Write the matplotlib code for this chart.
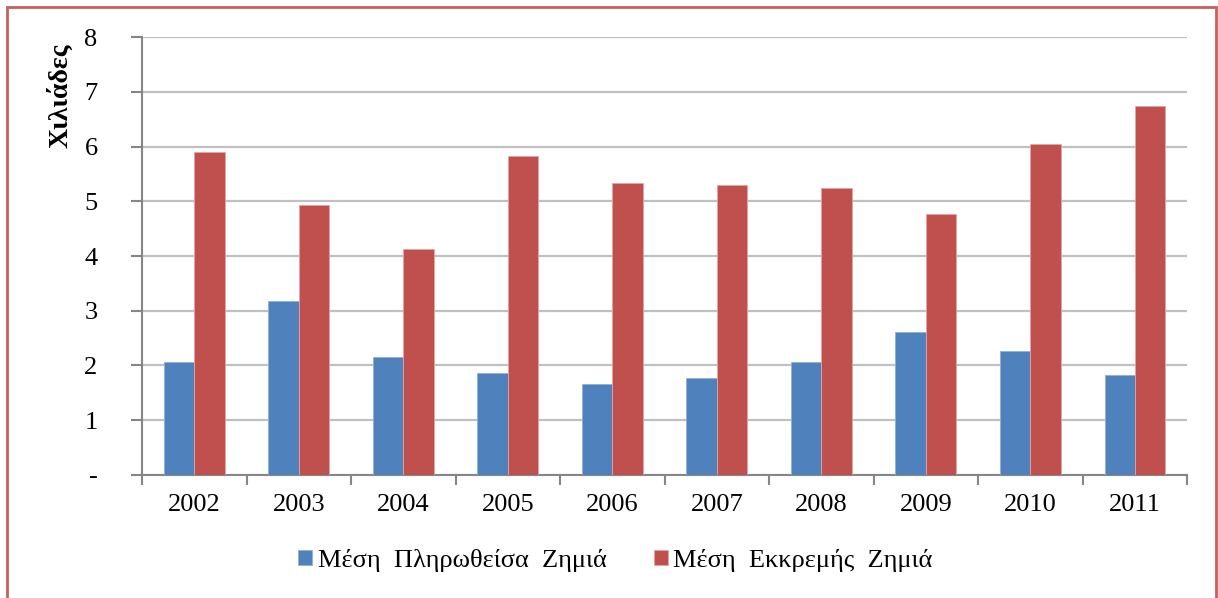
import matplotlib.pyplot as plt
import numpy as np
from matplotlib.patches import Rectangle

years = ['2002', '2003', '2004', '2005', '2006', '2007', '2008', '2009', '2010', '2011']
paid = [2.06, 3.17, 2.16, 1.86, 1.66, 1.78, 2.07, 2.62, 2.27, 1.82]
pending = [5.90, 4.94, 4.12, 5.83, 5.33, 5.30, 5.25, 4.76, 6.04, 6.74]
y_ticks = [0, 1, 2, 3, 4, 5, 6, 7, 8]
y_labels = ['-', '1', '2', '3', '4', '5', '6', '7', '8']

plt.rcParams['font.family'] = ['Liberation Serif', 'DejaVu Serif']

fig = plt.figure(figsize=(12.18, 5.98), dpi=100)
ax = fig.add_axes([0.1166, 0.2057, 0.858, 0.7324])

x = np.arange(len(years))
w = 0.29
ax.bar(x - w / 2, paid, w, color='#4f81bd', edgecolor='#8fb0d8', linewidth=0.6,
       label='Μέση  Πληρωθείσα  Ζημιά', zorder=3)
ax.bar(x + w / 2, pending, w, color='#c0504d', edgecolor='#e3a5a3', linewidth=0.6,
       label='Μέση  Εκκρεμής  Ζημιά', zorder=3)

ax.set_xlim(-0.5, len(years) - 0.5)
ax.set_ylim(0, 8)
ax.set_yticks(y_ticks)
ax.set_yticklabels(y_labels, fontsize=19)
ax.set_xticks(x)
ax.set_xticklabels(years, fontsize=19)
ax.set_xticks(np.arange(len(years) + 1) - 0.5, minor=True)
ax.tick_params(axis='x', which='major', length=0, pad=14)
ax.tick_params(axis='x', which='minor', length=7, width=1.5, color='#868686', direction='out')
ax.tick_params(axis='y', length=8, width=1.5, color='#868686', pad=24)

ax.yaxis.grid(True, color='#c0c0c0', linewidth=1.6, zorder=0)
for s in ['top', 'right']:
    ax.spines[s].set_visible(False)
for s in ['left', 'bottom']:
    ax.spines[s].set_color('#868686')
    ax.spines[s].set_linewidth(1.5)

# axis title sits at the top left like in the original
fig.text(60 / 1218, 1 - 44 / 598, 'Χιλιάδες', rotation=90, fontsize=20,
         fontweight='bold', ha='center', va='top')

ax.legend(loc='center', bbox_to_anchor=(0.453, -0.196), ncol=2, frameon=False,
          fontsize=19, handlelength=0.53, handleheight=0.5, handletextpad=0.2,
          columnspacing=1.8)

fig.patches.append(Rectangle((7 / 1218, -0.01), 1209 / 1218, 1 - 7 / 598 + 0.01,
                             transform=fig.transFigure, fill=False,
                             edgecolor='#c9605d', linewidth=2))

fig.savefig('out.png', dpi=100)
